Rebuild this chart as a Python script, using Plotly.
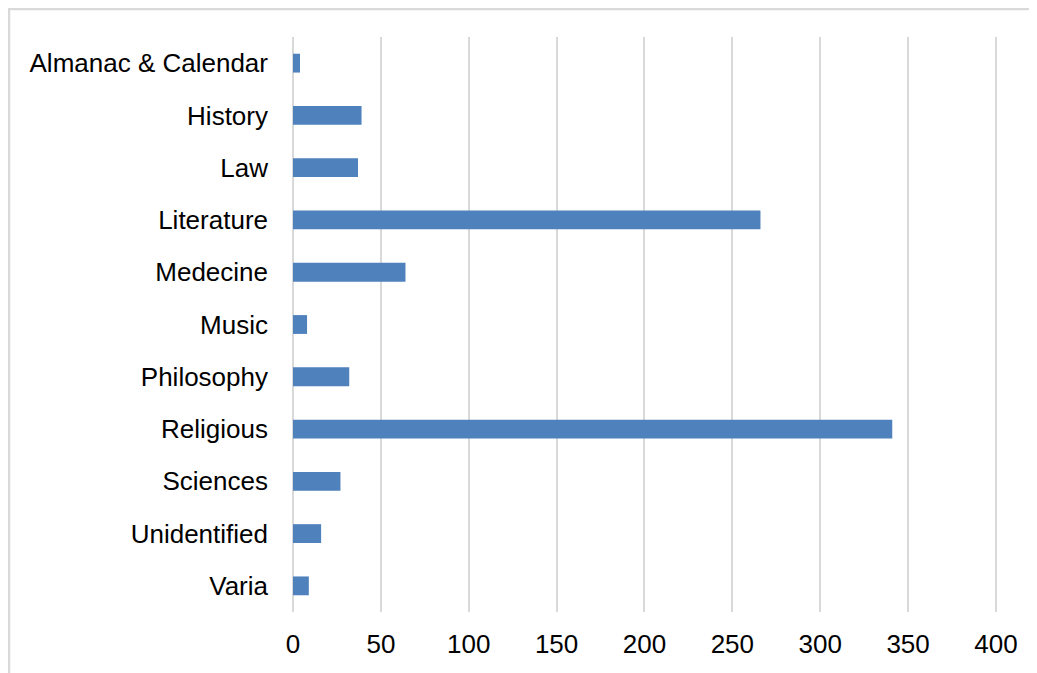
import plotly.graph_objects as go

categories = ["Almanac & Calendar", "History", "Law", "Literature", "Medecine", "Music",
              "Philosophy", "Religious", "Sciences", "Unidentified", "Varia"]
counts = [4, 39, 37, 266, 64, 8, 32, 341, 27, 16, 9]
x_ticks = [0, 50, 100, 150, 200, 250, 300, 350, 400]

# page body has an 8px margin, so the figure starts at (8, 8)
W, H = 1029, 665
L, R, T, B = 285, 40, 29, 61

fig = go.Figure(go.Bar(
    x=counts, y=categories, orientation="h",
    marker=dict(color="#4f81bd", line=dict(width=0)),
    hoverinfo="x+y",
))

pw = W - L - R
ph = H - T - B

fig.update_layout(
    width=W, height=H,
    margin=dict(l=L, r=R, t=T, b=B, pad=0),
    paper_bgcolor="white", plot_bgcolor="white",
    font=dict(family="Liberation Sans, Arial, sans-serif", size=26, color="#000000"),
    bargap=0.64,
    showlegend=False,
    xaxis=dict(range=[0, 400.6], tickvals=x_ticks, showgrid=True, gridcolor="#d9d9d9",
               gridwidth=1.5, zeroline=True, zerolinecolor="#d9d9d9", zerolinewidth=1.5,
               showline=False, ticks="", ticklabelstandoff=14, fixedrange=True),
    yaxis=dict(autorange="reversed", showgrid=False, zeroline=False, showline=False,
               ticks="", ticklabelstandoff=24, fixedrange=True),
    shapes=[
        dict(type="line", xref="paper", yref="paper",
             x0=-L / pw, x1=(W - L) / pw, y0=1 + (T - 1) / ph, y1=1 + (T - 1) / ph,
             line=dict(color="#d9d9d9", width=2.5)),
        dict(type="line", xref="paper", yref="paper",
             x0=(1 - L) / pw, x1=(1 - L) / pw, y0=1 + T / ph, y1=-B / ph,
             line=dict(color="#d9d9d9", width=2.5)),
    ],
)

fig.write_html("out.html")
